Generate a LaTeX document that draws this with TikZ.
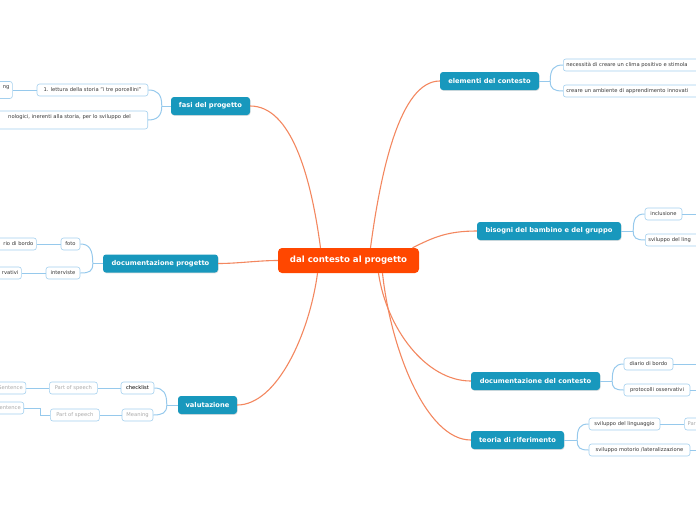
\documentclass[tikz,border=0pt]{standalone}
\usepackage{fontspec}
\setmainfont{DejaVu Sans}
\usetikzlibrary{positioning,shadows}
\definecolor{mapteal}{RGB}{24,152,189}
\definecolor{maporange}{RGB}{255,71,0}
\definecolor{mapcurve}{RGB}{243,135,95}
\definecolor{mapline}{RGB}{150,201,236}
\definecolor{mapedge}{RGB}{164,208,238}
\definecolor{maptext}{RGB}{55,55,55}
\definecolor{mapgray}{RGB}{170,170,170}

\begin{document}
\begin{tikzpicture}[
  x=1pt, y=-1pt,
  hub/.style={fill=maporange, text=white, rounded corners=4pt, minimum height=25pt, inner xsep=5pt, font=\fontsize{8.6}{10}\selectfont\bfseries},
  topic/.style={fill=mapteal, text=white, rounded corners=3pt, minimum height=18pt, inner xsep=3pt, font=\fontsize{6.7}{8}\selectfont\bfseries, drop shadow={shadow xshift=0.5pt, shadow yshift=-0.8pt, opacity=0.25}},
  leaf/.style={draw=mapedge, fill=white, rounded corners=2.5pt, minimum height=12pt, inner xsep=3pt, inner ysep=0pt, text=maptext, font=\fontsize{5.2}{6.2}\selectfont, line width=0.6pt},
  faded/.style={leaf, text=mapgray},
  curve/.style={draw=mapcurve, line width=1.1pt},
  branch/.style={draw=mapline, line width=1pt},
  twig/.style={draw=mapline, line width=0.7pt}
]
\useasboundingbox (0,0) rectangle (696,520);

% centre and main topics
\node[hub, minimum width=141pt] (hub) at (348.5,260.5) {dal contesto al progetto};
\node[topic, minimum width=79pt] (fasi) at (210.5,106) {fasi del progetto};
\node[topic, minimum width=115pt] (docp) at (160.5,263.5) {documentazione progetto};
\node[topic, minimum width=59pt] (val) at (207.5,405) {valutazione};
\node[topic, minimum width=99pt] (elem) at (489.5,81) {elementi del contesto};
\node[topic, minimum width=144pt] (bis) at (549,231) {bisogni del bambino e del gruppo};
\node[topic, minimum width=129pt] (docc) at (535.5,381) {documentazione del contesto};
\node[topic, minimum width=93pt] (teo) at (517.5,440) {teoria di riferimento};

% leaves, left side
\node[leaf, minimum width=111pt] (lettura) at (92.5,90) {1. lettura della storia "i tre porcellini"};
\node[leaf, left=24pt of lettura, text width=40pt, align=right, minimum height=17pt] (lettNg) {ng\\\mbox{}};
\node[leaf, anchor=east, text width=200pt, align=right, minimum height=18pt] (tecno) at (148,120) {nologici, inerenti alla storia, per lo sviluppo del\makebox[14pt]{}\\\mbox{}};
\node[leaf, minimum width=19pt] (foto) at (70.5,244) {foto};
\node[leaf, left=24pt of foto, text width=50pt, align=right] (diarioP) {rio di bordo};
\node[leaf, minimum width=34pt] (interv) at (63,273) {interviste};
\node[leaf, left=24pt of interv, text width=40pt, align=right] (osserv) {rvativi};
\node[leaf, minimum width=33pt, text=black] (check) at (137.5,388) {checklist};
\node[faded, minimum width=31pt] (meaning) at (137.5,415) {Meaning};
\node[faded, minimum width=48pt, left=23pt of check] (posA) {Part of speech};
\node[faded, minimum width=49pt, left=22pt of meaning] (posB) {Part of speech};
\node[faded, left=23pt of posA, text width=40pt, align=right] (sentA) {Sentence};
\node[faded, anchor=east, text width=40pt, align=right] (sentB) at (24,408) {entence};

% leaves, right side
\node[leaf, anchor=west, text width=200pt, align=left] (clima) at (563,65) {necessità di creare un clima positivo e stimola};
\node[leaf, anchor=west, text width=200pt, align=left] (ambiente) at (563,91) {creare un ambiente di apprendimento innovati};
\node[leaf, minimum width=37pt] (inclus) at (663.5,214) {inclusione};
\node[leaf, anchor=west, text width=100pt, align=left] (lingB) at (645,240) {sviluppo del ling};
\node[leaf, minimum width=49pt] (diarioC) at (648.5,364) {diario di bordo};
\node[leaf, minimum width=66pt] (protoc) at (657,390) {protocolli osservativi};
\node[leaf, minimum width=71pt] (lingT) at (624.5,424) {sviluppo del linguaggio};
\node[faded, right=24pt of lingT, text width=60pt, align=left] (posT) {Par};
\node[leaf, minimum width=101pt] (motorio) at (639.5,450) {sviluppo motorio /lateralizzazione};

\coordinate (inclOut) at (700,214);
\coordinate (diarioOut) at (700,364);
\coordinate (protocOut) at (700,390);
\coordinate (motorioOut) at (700,450);

% hub to topics
\draw[curve] ([xshift=-28pt]hub.north) .. controls +(-10,-75) and +(40,0) .. (fasi.east);
\draw[curve] ([xshift=22pt]hub.north) .. controls +(10,-75) and +(-40,0) .. (elem.west);
\draw[curve] ([xshift=64pt]hub.north) .. controls +(20,-10) and +(-30,0) .. (bis.west);
\draw[curve] (hub.west) .. controls +(-20,0) and +(20,0) .. (docp.east);
\draw[curve] ([xshift=-31pt]hub.south) .. controls +(-8,60) and +(40,0) .. (val.east);
\draw[curve] ([xshift=30pt]hub.south) .. controls +(8,55) and +(-45,0) .. (docc.west);
\draw[curve] ([xshift=34pt]hub.south) .. controls +(8,75) and +(-45,0) .. (teo.west);

% topics to leaves
\draw[branch] (fasi.west) -- ++(-9,0) coordinate (fasiJ);
\draw[branch] (fasiJ) .. controls +(0,-12) and +(9,0) .. (lettura.east);
\draw[branch] (fasiJ) .. controls +(0,10) and +(9,0) .. (tecno.east);
\draw[branch] (docp.west) -- ++(-10,0) coordinate (docpJ);
\draw[branch] (docpJ) .. controls +(0,-14) and +(9,0) .. (foto.east);
\draw[branch] (docpJ) .. controls +(0,8) and +(9,0) .. (interv.east);
\draw[branch] (val.west) -- ++(-11,0) coordinate (valJ);
\draw[branch] (valJ) .. controls +(0,-12) and +(9,0) .. (check.east);
\draw[branch] (valJ) .. controls +(0,8) and +(9,0) .. (meaning.east);
\draw[branch] (elem.east) -- ++(11,0) coordinate (elemJ);
\draw[branch] (elemJ) .. controls +(0,-12) and +(-9,0) .. (clima.west);
\draw[branch] (elemJ) .. controls +(0,8) and +(-9,0) .. (ambiente.west);
\draw[branch] (bis.east) -- ++(12,0) coordinate (bisJ);
\draw[branch] (bisJ) .. controls +(0,-12) and +(-9,0) .. (inclus.west);
\draw[branch] (bisJ) .. controls +(0,7) and +(-9,0) .. (lingB.west);
\draw[branch] (docc.east) -- ++(12,0) coordinate (doccJ);
\draw[branch] (doccJ) .. controls +(0,-12) and +(-9,0) .. (diarioC.west);
\draw[branch] (doccJ) .. controls +(0,7) and +(-9,0) .. (protoc.west);
\draw[branch] (teo.east) -- ++(13,0) coordinate (teoJ);
\draw[branch] (teoJ) .. controls +(0,-12) and +(-9,0) .. (lingT.west);
\draw[branch] (teoJ) .. controls +(0,8) and +(-9,0) .. (motorio.west);

% leaves to leaves
\draw[twig] (lettura.west) -- (lettNg.east);
\draw[twig] (foto) -- (diarioP);
\draw[twig] (interv) -- (osserv);
\draw[twig] (check) -- (posA);
\draw[twig] (posA) -- (sentA);
\draw[twig] (meaning) -- (posB);
\draw[twig] (posB.west) -- ++(-10,0) |- (sentB.east);
\draw[twig] (inclus.east) -- (inclOut);
\draw[twig] (diarioC.east) -- (diarioOut);
\draw[twig] (protoc.east) -- (protocOut);
\draw[twig] (lingT) -- (posT);
\draw[twig] (motorio.east) -- (motorioOut);
\end{tikzpicture}
\end{document}
